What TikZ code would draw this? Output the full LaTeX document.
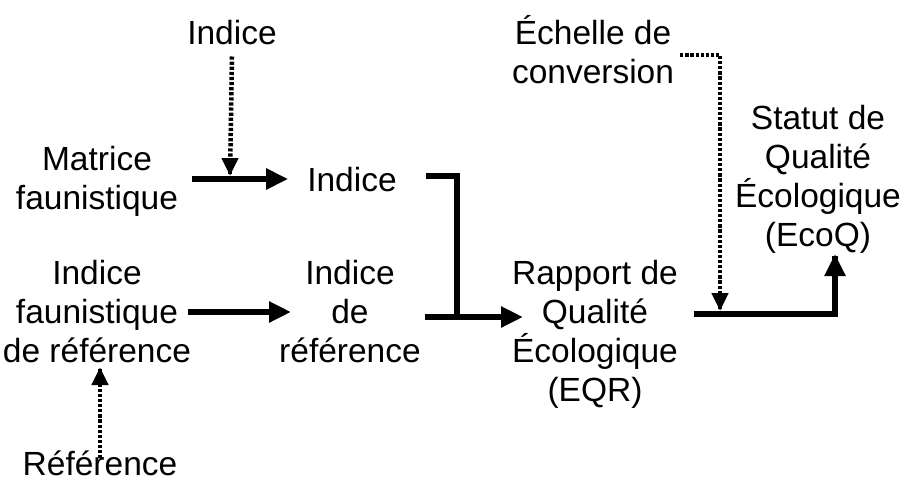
\documentclass[tikz,border=0pt]{standalone}
\usepackage{fontspec}
\setmainfont{Liberation Sans}
\usetikzlibrary{arrows.meta,calc}
\begin{document}
\begin{tikzpicture}[x=1pt,y=-1pt,
 lbl/.style={font=\fontsize{33.5}{39}\selectfont, align=center, inner sep=0pt},
 solidln/.style={line width=6.5pt},
 solidarr/.style={line width=6.5pt, -{Triangle[length=22pt,width=20pt]}},
 dotln/.style={line width=4.5pt, dash pattern=on 3.2pt off 1.9pt},
 dottip/.style={line width=4.5pt, solid, -{Triangle[length=18pt,width=16pt]}},
]
\useasboundingbox (0,0) rectangle (921,482);
\node[lbl] (ti) at (232,33) {Indice};
\node[lbl] (mf) at (97,181) {Matrice\\faunistique};
\node[lbl] (mi) at (352,180) {Indice};
\node[lbl] (ifr) at (97,312) {Indice\\faunistique\\de référence};
\node[lbl] (idr) at (350,312) {Indice\\de\\référence};
\node[lbl] (eqr) at (595,334) {Rapport de\\Qualité\\Écologique\\(EQR)};
\node[lbl] (ech) at (593,50) {Échelle de\\conversion};
\node[lbl] (ecoq) at (818,179) {Statut de\\Qualité\\Écologique\\(EcoQ)};
\node[lbl] (ref) at (100,463) {Référence};
% junction coordinates
\coordinate (j1) at (230,179);
\coordinate (j1t) at (230,176);
\coordinate (a2s) at (188,312);
\coordinate (a2e) at (291,312);
\coordinate (k) at (457,176);
\coordinate (j2) at (457,317);
\coordinate (eqrin) at (523,317);
\coordinate (c2) at (835,314);
\coordinate (ecoqin) at (835,254);
\coordinate (c3) at (720,55);
\coordinate (c3e) at (720,311);
\coordinate (refin) at (100,367);
% connectors
\draw[solidarr] ([xshift=14pt]mf.east |- j1) -- ([xshift=-19pt]mi.west |- j1);
\draw[dotln, shorten >=15pt] ([yshift=-11pt]ti.south) -- (j1t);
\draw[dottip] ([yshift=2pt]j1t) -- (j1t);
\draw[solidarr] (a2s) -- (a2e);
\draw[solidln] ([xshift=29pt]mi.east |- k) -- (k) -- (j2);
\draw[solidarr] ([xshift=4pt]idr.east |- j2) -- (eqrin);
\draw[solidln] ([xshift=16pt]eqr.east |- c2) -- (c2) -- ([yshift=-2pt]ecoqin);
\draw[solidarr] ([yshift=-3pt]ecoqin) -- (ecoqin);
\draw[dotln, shorten >=15pt] ([xshift=6pt]ech.east |- c3) -- (c3) -- (c3e);
\draw[dottip] ([yshift=2pt]c3e) -- (c3e);
\draw[dotln, shorten >=15pt] ([yshift=-8pt]ref.north) -- (refin);
\draw[dottip] ([yshift=-2pt]refin) -- (refin);
\end{tikzpicture}
\end{document}
